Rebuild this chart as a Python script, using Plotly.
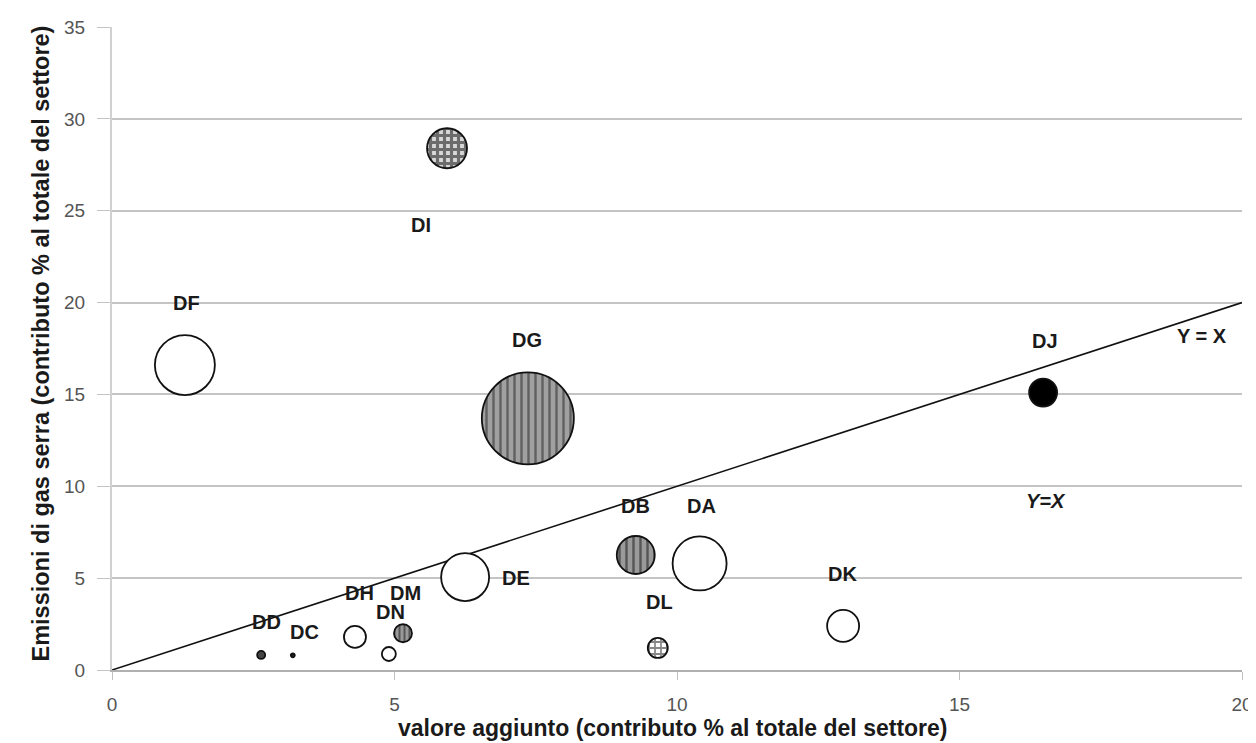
import numpy as np
import plotly.graph_objects as go

# ---- data ----
sectors = ["DA", "DB", "DC", "DD", "DE", "DF", "DG", "DH", "DI", "DJ", "DK", "DL", "DM", "DN"]
valore_aggiunto = [10.4, 9.27, 3.2, 2.64, 6.25, 1.29, 7.36, 4.3, 5.93, 16.48, 12.94, 9.66, 5.15, 4.9]
emissioni = [5.8, 6.26, 0.8, 0.82, 5.06, 16.6, 13.7, 1.8, 28.4, 15.1, 2.4, 1.2, 2.0, 0.87]
bubble_size = [54, 38, 4, 8, 48, 60, 92, 22, 40, 28, 32, 20, 18, 14]
line_x = [0, 20]
line_y = [0, 20]
x_ticks = [0, 5, 10, 15, 20]
y_ticks = [0, 5, 10, 15, 20, 25, 30, 35]
x_title = "valore aggiunto (contributo % al totale del settore)"
y_title = "Emissioni di gas serra (contributo % al totale del settore)"

# ---- styles ----
FONT = "Liberation Sans, Arial"
W, H = 1248, 735
M = dict(l=104, r=14, t=19, b=73)
XR, YR = [0, 20], [0, 35]
px_x = (W - M["l"] - M["r"]) / (XR[1] - XR[0])
px_y = (H - M["t"] - M["b"]) / (YR[1] - YR[0])

fills = {"DA": "white", "DB": None, "DC": "#222222", "DD": "#444444", "DE": "white",
         "DF": "white", "DG": None, "DH": "white", "DI": None, "DJ": "#000000",
         "DK": "white", "DL": None, "DM": None, "DN": "white"}
patterns = {"DB": dict(shape="|", bgcolor="#9a9a9a", fgcolor="#111111", size=7, solidity=0.35),
            "DG": dict(shape="|", bgcolor="#a0a0a0", fgcolor="#222222", size=7, solidity=0.35),
            "DM": dict(shape="|", bgcolor="#9a9a9a", fgcolor="#111111", size=5, solidity=0.4),
            "DI": dict(shape="+", bgcolor="#d8d8d8", fgcolor="#000000", size=7, solidity=0.7),
            "DL": dict(shape="+", bgcolor="#ffffff", fgcolor="#111111", size=6, solidity=0.5)}
label_shift = {"DA": (2, 57), "DB": (0, 49), "DC": (12, 23), "DD": (5, 33), "DE": (51, -1),
               "DF": (2, 62), "DG": (-1, 78), "DH": (5, 44), "DI": (-26, -77), "DJ": (2, 52),
               "DK": (-1, 52), "DL": (2, 46), "DM": (3, 40), "DN": (2, 42)}

fig = go.Figure()

# patterned bubble fills (circle outlines computed from centre + bubble size)
theta = np.linspace(0, 2 * np.pi, 73)
for s, xv, yv, sz in zip(sectors, valore_aggiunto, emissioni, bubble_size):
    if s in patterns:
        r = sz / 2
        fig.add_trace(go.Scatter(
            x=xv + (r / px_x) * np.cos(theta), y=yv + (r / px_y) * np.sin(theta),
            mode="lines", fill="toself", line=dict(width=0, color="rgba(0,0,0,0)"),
            fillcolor=patterns[s]["bgcolor"], fillpattern=patterns[s],
            hoverinfo="skip", showlegend=False))

fig.add_trace(go.Scatter(
    x=line_x, y=line_y, mode="lines",
    line=dict(color="#111111", width=1.6), hoverinfo="skip", showlegend=False))

fig.add_trace(go.Scatter(
    x=valore_aggiunto, y=emissioni, mode="markers", text=sectors,
    marker=dict(size=bubble_size, sizemode="diameter",
                color=[fills[s] if fills[s] else "rgba(0,0,0,0)" for s in sectors],
                line=dict(color="#111111", width=1.8), opacity=1),
    showlegend=False))

for s, xv, yv in zip(sectors, valore_aggiunto, emissioni):
    dx, dy = label_shift[s]
    fig.add_annotation(x=xv, y=yv, text="<b>" + s + "</b>", showarrow=False, xshift=dx, yshift=dy,
                       font=dict(family=FONT, size=20, color="#1a1a1a"))

fig.add_annotation(x=20, y=18.2, text="<b>Y = X</b>", showarrow=False, xshift=-40,
                   font=dict(family=FONT, size=20, color="#1a1a1a"))
fig.add_annotation(x=16.48, y=9.2, text="<b><i>Y=X</i></b>", showarrow=False, xshift=3,
                   font=dict(family=FONT, size=20, color="#1a1a1a"))

# axis titles
fig.add_annotation(xref="paper", yref="paper", x=0.5, y=0, yshift=-58, xshift=-4,
                   xanchor="center", yanchor="middle",
                   text="<b>" + x_title + "</b>", showarrow=False,
                   font=dict(family=FONT, size=23, color="#1a1a1a"))
fig.add_annotation(xref="paper", yref="paper", x=0, y=0.5, xshift=-72, yshift=5,
                   xanchor="center", yanchor="middle",
                   text="<b>" + y_title + "</b>", showarrow=False, textangle=-90,
                   font=dict(family=FONT, size=23.5, color="#1a1a1a"))

fig.update_layout(
    width=W, height=H, margin=M,
    paper_bgcolor="white", plot_bgcolor="white",
    font=dict(family=FONT, color="#333333"),
    xaxis=dict(range=XR, tickvals=x_ticks, showgrid=False, zeroline=False,
               showline=True, linecolor="#b0b0b0", linewidth=2,
               ticks="outside", ticklen=8, tickcolor="#c0c0c0", ticklabelstandoff=8,
               tickfont=dict(size=19, color="#555555"), automargin=False),
    yaxis=dict(range=YR, tickvals=y_ticks, showgrid=True, gridcolor="#c4c4c4", gridwidth=2,
               zeroline=False, showline=True, linecolor="#d0d0d0", linewidth=2,
               ticks="outside", ticklen=13, tickcolor="#c4c4c4", ticklabelstandoff=8,
               tickfont=dict(size=19, color="#555555"), automargin=False),
)

fig.write_html("out.html")
